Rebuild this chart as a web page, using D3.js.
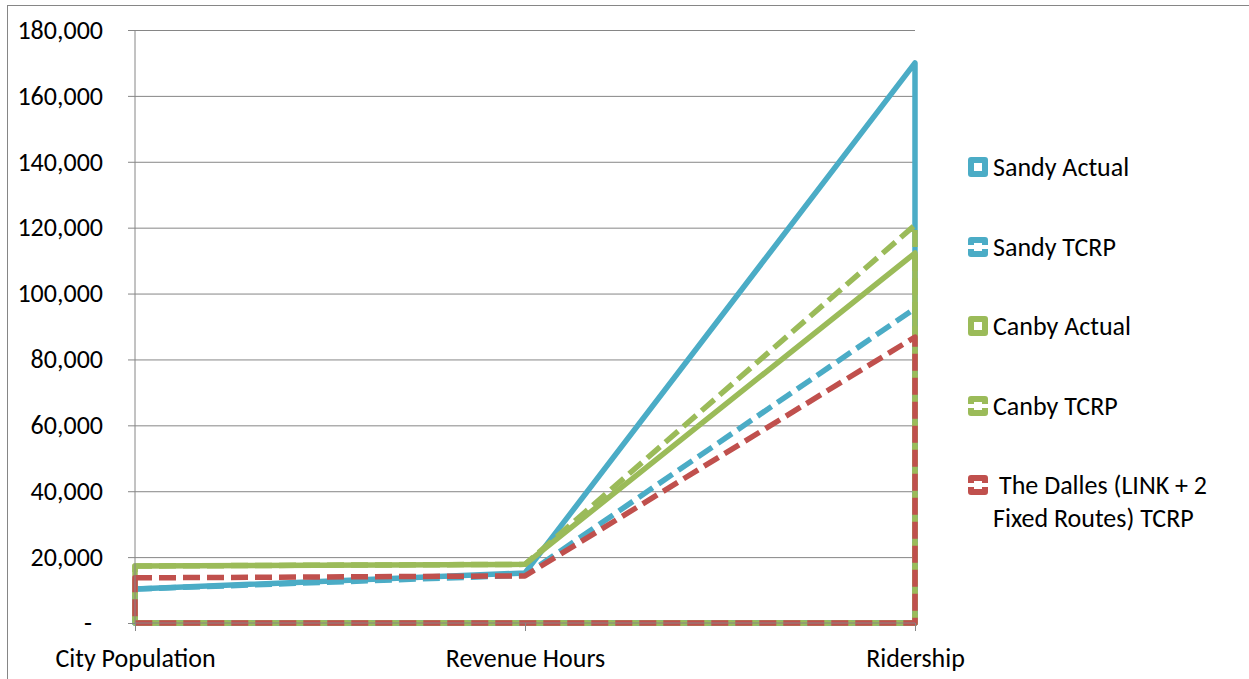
<!DOCTYPE html>
<html>
<head>
<meta charset="utf-8">
<script src="https://cdn.jsdelivr.net/npm/d3@7"></script>
<style>
  body { margin: 0; background: #fff; }
  svg text { font-family: Carlito, Calibri, Lato, sans-serif; font-size: 26px; fill: #000; }
  .axis path, .axis line { stroke: #868686; }
</style>
</head>
<body>
<div class="chart"></div>
<script>
// categories along the bottom
const categories = ['City Population', 'Revenue Hours', 'Ridership'];

// series values
const sandyActual = [10300, 15200, 170000];
const sandyTcrp = [10300, 14500, 95500];
const canbyActual = [17300, 17800, 112300];
const canbyTcrp = [17300, 17800, 120800];
const dallesTcrp = [13700, 14300, 86800];

const seriesNames = ['Sandy Actual', 'Sandy TCRP', 'Canby Actual', 'Canby TCRP', 'The Dalles (LINK + 2 Fixed Routes) TCRP'];
const yTicks = [0, 20000, 40000, 60000, 80000, 100000, 120000, 140000, 160000, 180000];

const series = [
  { name: seriesNames[0], values: sandyActual, color: '#4BACC6', dashed: false },
  { name: seriesNames[1], values: sandyTcrp, color: '#4BACC6', dashed: true },
  { name: seriesNames[2], values: canbyActual, color: '#9BBB59', dashed: false },
  { name: seriesNames[3], values: canbyTcrp, color: '#9BBB59', dashed: true },
  { name: seriesNames[4], values: dallesTcrp, color: '#C0504D', dashed: true },
];

const width = 1249;
const height = 679;
const plot = { left: 135, right: 915, top: 30, bottom: 623 };

const svg = d3.select('.chart').append('svg')
    .attr('width', width)
    .attr('height', height);

// chart frame
svg.append('rect')
    .attr('x', 7.5).attr('y', 5.5)
    .attr('width', 1300).attr('height', 700)
    .attr('fill', 'none')
    .attr('stroke', '#868686');

const x = d3.scalePoint().domain(categories).range([plot.left, plot.right]);
const y = d3.scaleLinear().domain([0, 180000]).range([plot.bottom, plot.top]);

// gridlines
svg.append('g')
    .attr('class', 'axis grid')
    .attr('transform', `translate(${plot.left}, 0)`)
    .call(d3.axisLeft(y).tickValues(yTicks).tickSize(-(plot.right - plot.left)).tickFormat(''))
    .call(g => g.select('.domain').remove());

// areas drawn as outlines only, like the original
const area = d3.area()
  .x((d, i) => x(categories[i]))
  .y0(y(0))
  .y1(d => y(d));

svg.selectAll('.area')
    .data(series)
  .enter().append('path')
    .attr('class', 'area')
    .attr('d', d => area(d.values))
    .attr('fill', 'none')
    .attr('stroke', d => d.color)
    .attr('stroke-width', 5.5)
    .attr('stroke-linejoin', 'round')
    .attr('stroke-dasharray', d => d.dashed ? '17 7' : null);

// y axis
const fmt = d3.format(',');
svg.append('g')
    .attr('class', 'axis')
    .attr('transform', `translate(${plot.left}, 0)`)
    .call(d3.axisLeft(y).tickValues(yTicks).tickSize(7).tickPadding(25)
      .tickFormat(d => d === 0 ? '-' : fmt(d)))
    .call(g => g.select('.domain').attr('d', `M0,${plot.top}V${plot.bottom}`))
    .call(g => g.selectAll('.tick text')
      .filter(d => d === 0)
      .attr('x', -47)
      .attr('text-anchor', 'middle'));

// x axis
svg.append('g')
    .attr('class', 'axis')
    .attr('transform', `translate(0, ${plot.bottom})`)
    .call(d3.axisBottom(x).tickSize(8).tickPadding(18))
    .call(g => g.select('.domain').attr('d', `M${plot.left},0H${plot.right}`));

// legend
const legendY = [167, 247, 326, 406, 485];
const legend = svg.selectAll('.legend')
    .data(series)
  .enter().append('g')
    .attr('class', 'legend')
    .attr('transform', (d, i) => `translate(971, ${legendY[i]})`);

legend.append('rect')
    .attr('x', 0).attr('y', -7)
    .attr('width', 14).attr('height', 14)
    .attr('fill', '#fff')
    .attr('stroke', d => d.color)
    .attr('stroke-width', 6)
    .attr('stroke-linejoin', 'round')
    .attr('stroke-dasharray', d => d.dashed ? '19 4 24 4 5' : null);

legend.append('text')
    .attr('x', 22)
    .attr('dy', '0.35em')
    .each(function(d) {
      const t = d3.select(this);
      if (d.name.length > 20) {
        t.append('tspan').attr('x', 28).text('The Dalles (LINK + 2');
        t.append('tspan').attr('x', 22).attr('dy', 33).text('Fixed Routes) TCRP');
      } else {
        t.text(d.name);
      }
    });
</script>
</body>
</html>
